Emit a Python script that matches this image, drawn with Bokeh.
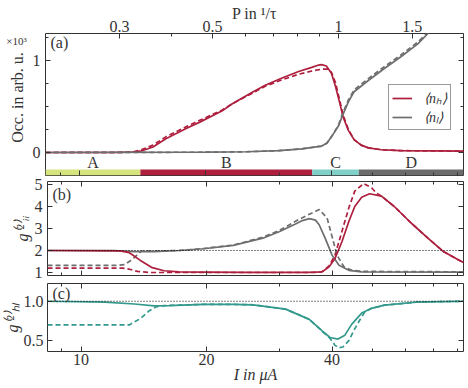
import math

from bokeh.core.properties import value
from bokeh.embed import file_html
from bokeh.layouts import column, row
from bokeh.models import (CustomJSTickFormatter, FixedTicker, Label, Legend, LegendItem,
                          LinearAxis, LogAxis, LogScale, PrintfTickFormatter, Range1d, Span)
from bokeh.plotting import figure
from bokeh.resources import INLINE

FONT = "Liberation Serif"
INK = "#333333"
RED = "#ad1f3d"
GREY = "#6e6e6e"
TEAL = "#32998c"

# pump current axis (log scale, in µA) and the pump rate axis on top
I_MIN, I_MAX = 8.31, 82.66
I_PER_P = 41.6            # current that corresponds to P = 1/tau
i_major = [10, 20, 40]
i_minor = [9, 30, 50, 60, 70, 80]
p_major = [0.3, 0.5, 1, 1.5]
p_minor = [0.4, 0.6, 0.7, 0.8, 0.9, 2]

# operating regimes along the current axis
phase_names = ["A", "B", "C", "D"]
phase_lo = [8.31, 14.0, 36.0, 46.5]
phase_hi = [14.0, 36.0, 46.5, 82.66]
phase_colors = ["#d5e47d", "#ad1f3d", "#80cfc8", "#6b6b6b"]

# (a) mean photon numbers, in units of 10^3
nh_I = [8.31, 12.0, 13.4, 14.0, 15.0, 16.1, 18.0, 19.4, 21.9, 23.2, 25.9, 27.8, 30.5,
        33.4, 35.9, 37.3, 37.9, 38.9, 40.0, 40.9, 41.8, 42.7, 43.9, 45.3, 47.1, 49.0,
        52.6, 58.6, 82.66]
nh = [0.0, 0.0, 0.003, 0.014, 0.06, 0.15, 0.26, 0.33, 0.45, 0.53, 0.655, 0.73, 0.81,
      0.88, 0.925, 0.95, 0.955, 0.94, 0.86, 0.72, 0.55, 0.38, 0.24, 0.14, 0.08, 0.05,
      0.03, 0.02, 0.015]
nh_mf_I = [8.31, 12.5, 13.4, 14.0, 15.0, 16.1, 18.0, 19.4, 21.9, 23.2, 25.9, 27.8, 30.5,
           33.4, 35.9, 37.9, 39.3, 40.0, 40.9, 41.8, 42.7, 43.9, 45.3, 47.1, 49.0, 52.6,
           58.6, 82.66]
nh_mf = [0.0, 0.0, 0.006, 0.025, 0.08, 0.17, 0.28, 0.35, 0.46, 0.53, 0.645, 0.72, 0.79,
         0.85, 0.885, 0.905, 0.905, 0.87, 0.76, 0.58, 0.40, 0.25, 0.14, 0.08, 0.05, 0.03,
         0.02, 0.015]

nl_I = [8.31, 20.0, 25.0, 30.0, 34.0, 37.9, 39.0, 40.0, 41.6, 42.5, 43.9, 45.3, 48.9,
        53.4, 58.6, 64.3, 67.9, 82.66]
nl = [0.0, 0.003, 0.008, 0.02, 0.04, 0.07, 0.10, 0.17, 0.29, 0.40, 0.55, 0.66, 0.78,
      0.91, 1.04, 1.18, 1.29, 1.75]
nl_mf = [0.0, 0.003, 0.008, 0.02, 0.04, 0.07, 0.10, 0.17, 0.30, 0.42, 0.57, 0.68, 0.80,
         0.93, 1.06, 1.20, 1.30, 1.77]

# (b) auto-correlations g_hh and g_ll
ghh_I = [8.31, 12.4, 13.06, 13.88, 14.82, 15.82, 17.17, 19.7, 25.0, 30.0, 35.0, 37.87,
         39.35, 40.66, 42.24, 43.88, 45.34, 47.11, 49.21, 52.55, 56.4, 61.9, 67.91,
         74.13, 81.33, 82.66]
ghh = [2.0, 1.98, 1.9, 1.55, 1.22, 1.08, 1.03, 1.02, 1.01, 1.01, 1.01, 1.03, 1.26, 1.64,
       2.4, 3.32, 4.0, 4.42, 4.58, 4.47, 4.0, 3.25, 2.56, 1.94, 1.52, 1.46]
ghh_mf_I = [8.31, 12.57, 13.06, 13.65, 14.58, 20.0, 30.0, 37.0, 37.87, 39.35, 40.66,
            42.24, 43.88, 45.34, 47.63, 49.76, 51.13, 52.55, 56.4, 61.9, 67.91, 74.13,
            81.33, 82.66]
ghh_mf = [1.2, 1.2, 1.15, 1.05, 1.0, 1.0, 1.0, 1.0, 1.04, 1.3, 1.8, 2.86, 3.94, 4.7,
          5.04, 4.85, 4.6, 4.47, 4.0, 3.25, 2.56, 1.94, 1.52, 1.46]

gll_I = [8.31, 12.0, 13.43, 14.97, 17.17, 19.68, 23.18, 27.3, 29.95, 32.69, 33.96,
         35.28, 36.5, 37.25, 38.5, 40.0, 41.56, 43.88, 47.11, 82.66]
gll = [2.0, 1.99, 1.95, 1.95, 2.0, 2.08, 2.23, 2.56, 2.86, 3.2, 3.36, 3.45, 3.38, 3.17,
       2.56, 1.79, 1.33, 1.1, 1.03, 1.02]
gll_mf_I = [8.31, 12.04, 12.72, 13.28, 13.95, 14.97, 17.17, 19.68, 23.18, 27.3, 29.95,
            32.69, 35.28, 37.25, 38.92, 40.0, 41.11, 42.7, 44.61, 48.0, 82.66]
gll_mf = [1.32, 1.32, 1.36, 1.6, 1.97, 1.97, 2.0, 2.09, 2.25, 2.6, 2.92, 3.33, 3.65,
          3.86, 3.48, 2.63, 1.79, 1.26, 1.1, 1.05, 1.03]

# (c) cross-correlation g_hl
ghl_I = [8.31, 11.4, 13.43, 14.97, 16.26, 19.68, 23.18, 25.85, 30.95, 35.28, 37.87,
         39.56, 41.33, 42.94, 44.61, 47.11, 49.76, 53.42, 64.31, 82.66]
ghl = [1.0, 0.99, 0.965, 0.94, 0.945, 0.96, 0.96, 0.955, 0.9, 0.77, 0.625, 0.54, 0.52,
       0.57, 0.71, 0.85, 0.91, 0.95, 0.99, 1.0]
ghl_mf_I = [8.31, 13.06, 13.88, 14.58, 15.14, 15.82, 19.68, 23.18, 25.85, 30.95, 35.28,
            37.87, 39.56, 40.66, 41.56, 42.47, 43.88, 45.34, 46.35, 47.89, 49.76, 53.42,
            64.31, 82.66]
ghl_mf = [0.7, 0.7, 0.78, 0.88, 0.93, 0.945, 0.96, 0.96, 0.955, 0.9, 0.77, 0.62, 0.53,
          0.44, 0.41, 0.42, 0.5, 0.65, 0.74, 0.86, 0.91, 0.95, 0.99, 1.0]


def make_panel(width, height, y_lo, y_hi, left, top, bottom):
    p = figure(width=width, height=height, x_axis_type="log",
               x_range=Range1d(I_MIN, I_MAX), y_range=Range1d(y_lo, y_hi),
               output_backend="svg", toolbar_location=None, title=None,
               min_border_left=left, min_border_right=5,
               min_border_top=top, min_border_bottom=bottom)
    p.xgrid.visible = False
    p.ygrid.visible = False
    p.outline_line_color = INK
    p.outline_line_width = 1
    p.outline_line_alpha = 1
    p.background_fill_color = "white"
    p.border_fill_color = "white"
    return p


def make_strip(width, height):
    # a blank canvas that only carries text labels
    s = figure(width=width, height=height, x_range=Range1d(0, 1), y_range=Range1d(0, 1),
               output_backend="svg", toolbar_location=None, title=None,
               x_axis_location=None, y_axis_location=None, min_border=0)
    s.xgrid.visible = False
    s.ygrid.visible = False
    s.outline_line_color = None
    s.background_fill_color = "white"
    s.border_fill_color = "white"
    return s


def style_axis(ax, ticker, formatter=None, labels=True, standoff=4):
    ax.ticker = ticker
    ax.axis_line_color = None
    ax.major_tick_in = 5
    ax.major_tick_out = 0
    ax.minor_tick_in = 3
    ax.minor_tick_out = 0
    ax.major_tick_line_color = INK
    ax.minor_tick_line_color = INK
    ax.major_label_text_font = FONT
    ax.major_label_text_color = INK
    ax.axis_label_text_font = FONT
    ax.axis_label_text_color = INK
    ax.axis_label_text_font_size = "16px"
    ax.axis_label_text_font_style = "normal"
    if labels:
        ax.formatter = formatter
        ax.major_label_text_font_size = "16px"
        ax.major_label_standoff = standoff
    else:
        ax.formatter = CustomJSTickFormatter(code="return ''")
        ax.major_label_text_font_size = "0px"
        ax.major_label_standoff = 0


def i_ticker():
    return FixedTicker(ticks=i_major, minor_ticks=i_minor)


def add_frame_ticks(p, y_ticker, top_axis=True):
    right = LinearAxis()
    style_axis(right, y_ticker, labels=False)
    p.add_layout(right, "right")
    if top_axis:
        top = LogAxis()
        style_axis(top, i_ticker(), labels=False)
        p.add_layout(top, "above")


def note(p, text, x, y, size="16px", angle=0.0, align="left", style="normal"):
    p.add_layout(Label(x=x, y=y, x_units="screen", y_units="screen", text=text,
                       angle=angle, text_align=align, text_baseline="middle",
                       text_font=FONT, text_font_size=size, text_font_style=style,
                       text_color=INK))


plain = CustomJSTickFormatter(code="return String(tick)")

# ---------------- (a) occupations ----------------
BAR_TOP, OCC_LO, OCC_HI = -0.185, -0.25, 1.293
pa = make_panel(439, 177, OCC_LO, OCC_HI, 13, 33, 2)
pa.extra_x_ranges = {"P": Range1d(I_MIN / I_PER_P, I_MAX / I_PER_P)}
pa.extra_x_scales = {"P": LogScale()}

occ_ticker = FixedTicker(ticks=[0, 1], minor_ticks=[0.25, 0.5, 0.75, 1.25])
style_axis(pa.xaxis[0], i_ticker(), labels=False)
style_axis(pa.yaxis[0], occ_ticker, plain, standoff=5)
top_p = LogAxis(x_range_name="P", axis_label="P in ¹/τ")
style_axis(top_p, FixedTicker(ticks=p_major, minor_ticks=p_minor), plain, standoff=2)
top_p.axis_label_standoff = -4
pa.add_layout(top_p, "above")
add_frame_ticks(pa, occ_ticker, top_axis=False)

pa.quad(left=phase_lo, right=phase_hi, bottom=OCC_LO, top=BAR_TOP,
        fill_color=phase_colors, line_color=None)
pa.text(x=[math.sqrt(a * b) for a, b in zip(phase_lo, phase_hi)],
        y=[-0.105] * len(phase_names), text=phase_names,
        text_font=value(FONT), text_font_size=value("16px"), text_color=INK,
        text_align="center", text_baseline="middle")

pa.line(nh_mf_I, nh_mf, line_color=RED, line_width=1.7, line_dash="5 3")
pa.line(nl_I, nl_mf, line_color=GREY, line_width=1.7, line_dash="5 3")
r_nh = pa.line(nh_I, nh, line_color=RED, line_width=1.7)
r_nl = pa.line(nl_I, nl, line_color=GREY, line_width=1.7)

legend = Legend(items=[LegendItem(label="⟨nₕ⟩", renderers=[r_nh]),
                       LegendItem(label="⟨nₗ⟩", renderers=[r_nl])],
                location=(343, 45), margin=0, padding=3, spacing=0,
                glyph_width=20, glyph_height=16, label_height=16, label_standoff=12,
                label_text_font=FONT, label_text_font_size="14px",
                label_text_font_style="italic", label_text_color=INK,
                border_line_color=INK, border_line_width=1,
                background_fill_color="white", background_fill_alpha=1)
pa.add_layout(legend)
note(pa, "(a)", 5, 133)

a_left = make_strip(29, 177)
note(a_left, "×10³", 16, 135, size="11px", align="center")
note(a_left, "Occ. in arb. u.", 17, 78, angle=math.pi / 2, align="center")

# ---------------- (b) auto-correlations ----------------
pb = make_panel(468, 106, 0.864, 5.136, 42, 4, 8)
gii_ticker = FixedTicker(ticks=[1, 2, 3, 4, 5], minor_ticks=[])
style_axis(pb.xaxis[0], i_ticker(), labels=False)
style_axis(pb.yaxis[0], gii_ticker, plain, standoff=5)
pb.yaxis[0].axis_label = "g⁽²⁾ᵢᵢ"
pb.yaxis[0].axis_label_standoff = 1
pb.yaxis[0].axis_label_text_font_style = "italic"
add_frame_ticks(pb, gii_ticker)
pb.add_layout(Span(location=2, dimension="width", line_color="black",
                   line_width=1, line_dash="1 2"))
pb.line(ghh_mf_I, ghh_mf, line_color=RED, line_width=1.7, line_dash="5 3")
pb.line(gll_mf_I, gll_mf, line_color=GREY, line_width=1.7, line_dash="5 3")
pb.line(gll_I, gll, line_color=GREY, line_width=1.7)
pb.line(ghh_I, ghh, line_color=RED, line_width=1.7)
note(pb, "(b)", 5, 81)

# ---------------- (c) cross-correlation ----------------
pc = make_panel(468, 105, 0.3625, 1.225, 42, 0, 37)
ghl_ticker = FixedTicker(ticks=[0.5, 1.0], minor_ticks=[])
style_axis(pc.xaxis[0], i_ticker(), plain, standoff=2)
pc.xaxis[0].axis_label = "I in μA"
pc.xaxis[0].axis_label_standoff = -2
pc.xaxis[0].axis_label_text_font_style = "italic"
style_axis(pc.yaxis[0], ghl_ticker, PrintfTickFormatter(format="%.1f"), standoff=4)
pc.yaxis[0].axis_label = "g⁽²⁾ₕₗ"
pc.yaxis[0].axis_label_standoff = 0
pc.yaxis[0].axis_label_text_font_style = "italic"
add_frame_ticks(pc, ghl_ticker)
pc.add_layout(Span(location=1, dimension="width", line_color="black",
                   line_width=1, line_dash="1 2"))
pc.line(ghl_mf_I, ghl_mf, line_color=TEAL, line_width=1.7, line_dash="5 3")
pc.line(ghl_I, ghl, line_color=TEAL, line_width=1.7)
note(pc, "(c)", 5, 58)

layout = column(row(a_left, pa), pb, pc)
open("out.html", "w").write(file_html(layout, INLINE))
